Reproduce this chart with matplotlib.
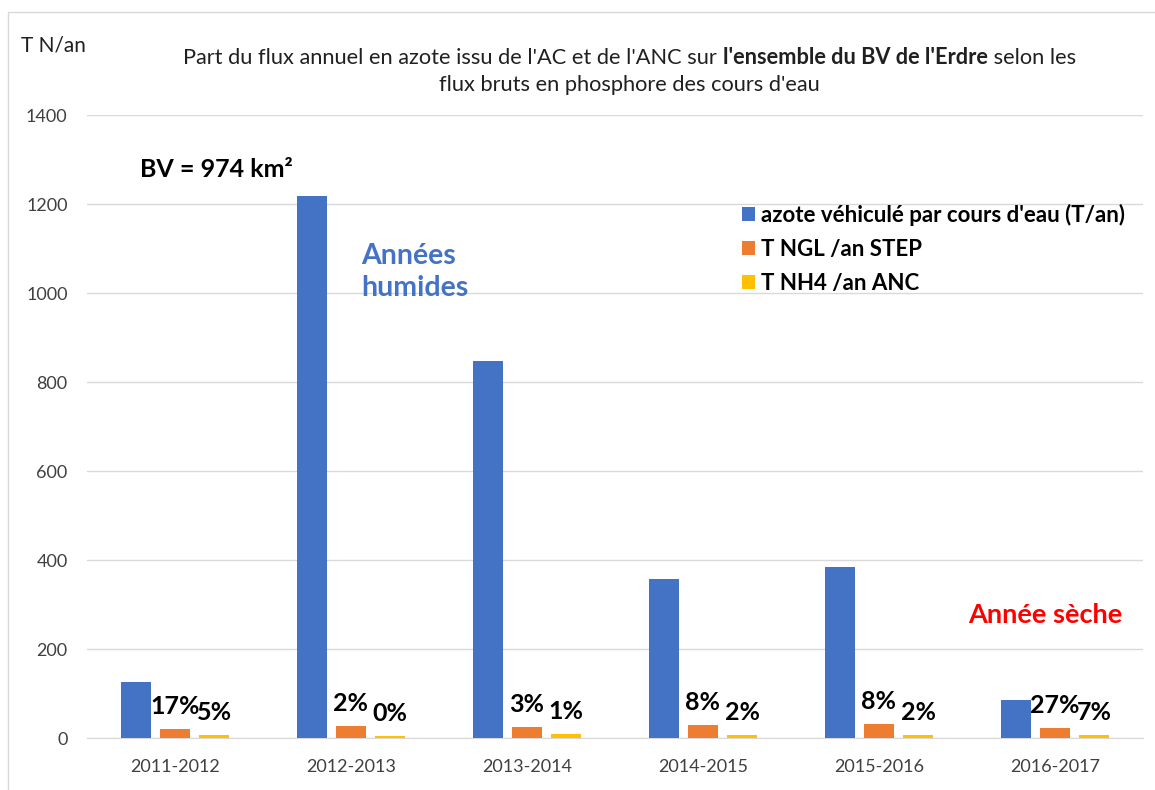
import matplotlib.pyplot as plt
import numpy as np
from matplotlib.patches import Rectangle

plt.rcParams['font.family'] = ['Lato', 'DejaVu Sans']

annees = ['2011-2012', '2012-2013', '2013-2014', '2014-2015', '2015-2016', '2016-2017']
azote_cours_eau = [125, 1218, 847, 357, 384, 85]
ngl_step = [21, 27, 25, 29, 31, 23]
nh4_anc = [6.5, 5, 8.5, 7, 7.5, 6]

noms = ["azote véhiculé par cours d'eau (T/an)", 'T NGL /an STEP', 'T NH4 /an ANC']
couleurs = ['#4472C4', '#ED7D31', '#FFC000']

fig = plt.figure(figsize=(11.55, 7.9), dpi=100)
ax = fig.add_axes([0.0753, 0.0658, 0.9143, 0.7886])

# cadre du graphique
fig.patches.append(Rectangle((0.007, -0.05), 1.2, 1.035, transform=fig.transFigure,
                             fill=False, edgecolor='#D9D9D9', linewidth=1))

x = np.arange(len(annees))
w = 0.173
dx = 0.222
series = [azote_cours_eau, ngl_step, nh4_anc]
for k, (vals, nom, c) in enumerate(zip(series, noms, couleurs)):
    ax.bar(x + (k - 1) * dx, vals, w, color=c, label=nom, zorder=3)

# parts STEP et ANC par rapport au flux des cours d'eau
for i in range(len(annees)):
    for k, vals in ((1, ngl_step), (2, nh4_anc)):
        part = round(100 * vals[i] / azote_cours_eau[i])
        ax.annotate(f'{part}%', (x[i] + (k - 1) * dx, vals[i]), xytext=(0, 8),
                    textcoords='offset points', ha='center', va='bottom',
                    fontsize=18, fontweight='bold', color='black', zorder=4)

ax.set_xlim(-0.5, len(annees) - 0.5)
ax.set_ylim(0, 1400)
ax.set_yticks(range(0, 1401, 200))
ax.set_xticks(x)
ax.set_xticklabels(annees)
ax.tick_params(axis='x', length=0, pad=15, labelsize=13, colors='#404040')
ax.tick_params(axis='y', length=0, pad=14, labelsize=13, colors='#404040')
ax.grid(axis='y', color='#D9D9D9', linewidth=1, zorder=0)
for s in ['top', 'right', 'left']:
    ax.spines[s].set_visible(False)
ax.spines['bottom'].set_color('#D9D9D9')

# titre sur deux lignes, une partie en gras
morceaux = [("Part du flux annuel en azote issu de l'AC et de l'ANC sur ", 'normal'),
            ("l'ensemble du BV de l'Erdre", 'bold'),
            (" selon les", 'normal')]
rend = fig.canvas.get_renderer()
textes = [fig.text(0, 0.927, t, fontsize=15.7, fontweight=fw, color='#202020',
                   va='center', ha='left') for t, fw in morceaux]
larg = [t.get_window_extent(rend).width / fig.bbox.width for t in textes]
x0 = 0.545 - sum(larg) / 2
for t, l in zip(textes, larg):
    t.set_x(x0)
    x0 += l
fig.text(0.545, 0.892, "flux bruts en phosphore des cours d'eau", ha='center', va='center',
         fontsize=15.7, color='#202020')
fig.text(0.018, 0.943, 'T N/an', ha='left', va='center', fontsize=15, color='#202020')

ax.text(0.05, 0.912, 'BV = 974 km²', transform=ax.transAxes, fontsize=18,
        fontweight='bold', color='black', va='center')
ax.text(0.26, 0.748, 'Années\nhumides', transform=ax.transAxes, fontsize=20.5,
        fontweight='bold', color='#4472C4', va='center', linespacing=1.3)
ax.text(0.834, 0.197, 'Année sèche', transform=ax.transAxes, fontsize=19.5,
        fontweight='bold', color='#FF0000', va='center')

leg = ax.legend(loc='upper left', bbox_to_anchor=(0.62, 0.858), frameon=False,
                borderpad=0, borderaxespad=0,
                handlelength=0.6, handleheight=0.6, handletextpad=0.25,
                labelspacing=0.6, prop={'size': 16, 'weight': 'bold'})

fig.savefig('out.png', dpi=100)
